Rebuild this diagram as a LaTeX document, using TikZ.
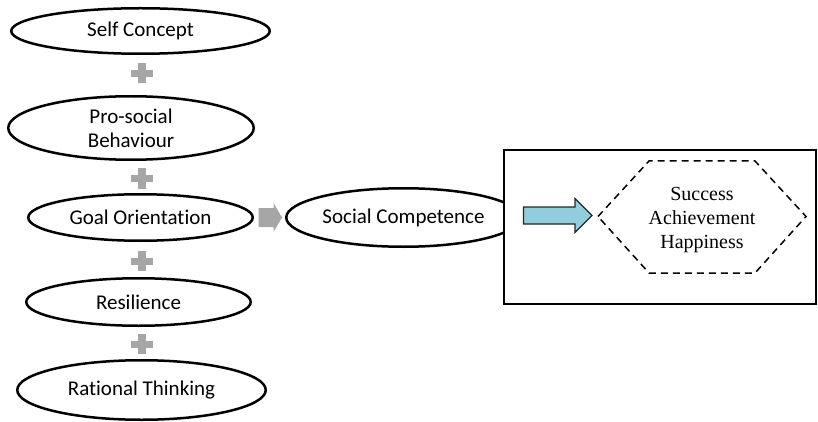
\documentclass[tikz,border=0pt]{standalone}
\usepackage{fontspec}
\newfontfamily\calib[Ligatures={NoCommon,NoRequired,NoContextual}]{Carlito}
\newfontfamily\serifb{Liberation Serif}
\usetikzlibrary{shapes.geometric,calc}
\definecolor{plusgray}{HTML}{A6A6A6}
\definecolor{cyanfill}{HTML}{92CDDC}
\tikzset{
  ell/.style={ellipse, draw=black, line width=2.5pt, fill=white, inner sep=0pt,
    align=center, font=\calib\fontsize{21}{24}\selectfont},
  plussign/.pic={
    \fill[plusgray] (-11,-3.5) rectangle (11,3.5);
    \fill[plusgray] (-4,-10) rectangle (4,10);
  },
  outerbox/.style={draw=black, line width=2pt, fill=white, inner sep=0pt,
    minimum width=312pt, minimum height=154pt},
  hexline/.style={draw=black, line width=1.5pt, dash pattern=on 7pt off 5pt},
  hextext/.style={align=center, font=\serifb\fontsize{20}{24}\selectfont, inner sep=0pt},
  grayarrow/.style={fill=plusgray},
  bluearrow/.style={fill=cyanfill, draw=black!85, line width=1.1pt, line join=miter}
}
\begin{document}
\begin{tikzpicture}[x=1pt,y=-1pt]
\useasboundingbox (0,0) rectangle (818,422);
% left column
\node[ell, minimum width=258.5pt, minimum height=45.5pt] (sc) at (140.5,31) {\raisebox{-1.5pt}{Self Concept}};
\node[ell, minimum width=245.5pt, minimum height=63.5pt] (pb) at (131,128) {Pro-social\\Behaviour};
\node[ell, minimum width=224.5pt, minimum height=46.5pt] (go) at (140.5,217.5) {Goal Orientation};
\node[ell, minimum width=224.5pt, minimum height=47.5pt] (res) at (138.5,302) {Resilience};
\node[ell, minimum width=248.5pt, minimum height=59.5pt] (rt) at (141.5,390) {Rational Thinking};
% plus signs
\pic at (142,73.5) {plussign};
\pic at (142,178.5) {plussign};
\pic at (142,261) {plussign};
\pic at (142,344) {plussign};
% social competence
\node[ell, minimum width=234.5pt, minimum height=58.5pt] (soc) at (403.5,217.5) {Social Competence};
% gray arrow from goal orientation to social competence
\fill[grayarrow] ($(go.east)+(4.5,-9.5)$) -- ++(15,0) -- ++(0,-5) -- ++(8.5,14.5)
  -- ++(-8.5,14.5) -- ++(0,-5) -- ++(-15,0) -- cycle;
% outer box
\node[outerbox] (box) at (660,227) {};
% hexagon with text
\node[hextext] (hex) at (702,220) {Success\\Achievement\\Happiness};
\draw[hexline] (598,216.5) -- (649,161) -- (755,161) -- (806,216.5) -- (755,273) -- (649,273) -- cycle;
% blue arrow
\draw[bluearrow] (523.5,207) -- (575,207) -- (575,198.5) -- (592,215.5) -- (575,232.5)
  -- (575,224) -- (523.5,224) -- cycle;
\end{tikzpicture}
\end{document}
